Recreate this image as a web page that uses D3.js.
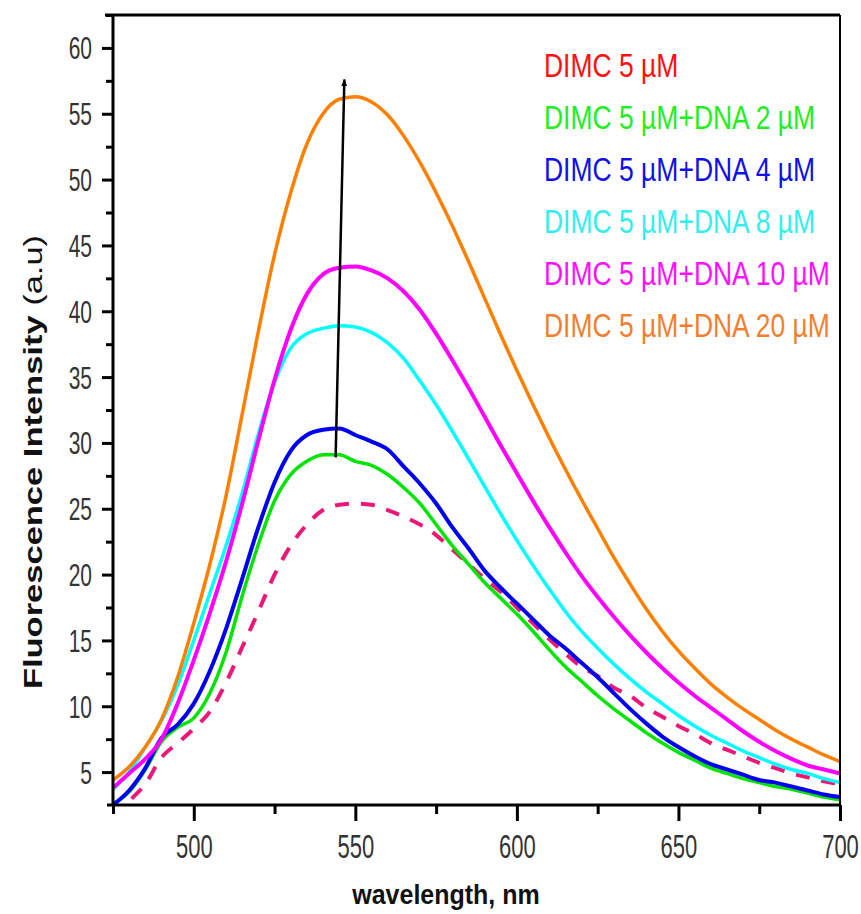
<!DOCTYPE html>
<html>
<head>
<meta charset="utf-8">
<script src="https://cdn.jsdelivr.net/npm/d3@7/dist/d3.min.js"></script>
<style>
  body { margin: 0; background: #fff; }
  text { font-family: "Liberation Sans", Arial, sans-serif; }
</style>
</head>
<body>
<svg id="chart" width="861" height="914"></svg>
<script>
// wavelength grid (nm)
const wavelength = [475,480,485,490,495,500,505,510,515,520,525,530,535,540,545,550,555,560,565,570,575,580,585,590,595,600,605,610,615,620,625,630,635,640,645,650,655,660,665,670,675,680,685,690,695,700];

// fluorescence intensity (a.u)
const dimc5 = [1.6,2.8,4.1,6.1,7.2,8.3,9.6,11.8,14.5,17.2,20.0,22.2,23.8,24.9,25.3,25.4,25.3,24.9,24.4,23.8,23.0,21.9,20.8,19.7,18.7,17.5,16.3,15.1,14.0,13.0,12.3,11.4,10.8,9.9,9.2,8.5,7.9,7.2,6.7,6.2,5.7,5.3,4.9,4.6,4.3,4.1];
const dna2 = [2.6,3.5,5.2,7.3,8.4,9.1,11.0,14.1,18.4,22.3,25.6,27.6,28.6,29.1,29.1,28.6,28.3,27.6,26.6,25.4,23.8,22.2,20.8,19.4,18.2,17.0,15.7,14.3,13.0,11.9,10.8,9.8,8.9,8.0,7.2,6.5,5.9,5.3,4.9,4.5,4.2,3.9,3.7,3.4,3.1,2.9];
const dna4 = [2.5,3.6,5.3,7.6,8.6,10.2,12.7,15.9,19.7,23.6,27.0,29.4,30.6,31.0,31.1,30.6,30.1,29.5,28.2,26.9,25.4,23.6,22.0,20.3,19.0,17.8,16.6,15.4,14.4,13.3,12.2,11.0,9.8,8.7,7.7,6.9,6.2,5.6,5.2,4.8,4.4,4.2,3.9,3.6,3.3,3.1];
const dna8 = [3.7,5.0,6.9,8.9,11.6,15.0,18.6,22.2,26.2,30.7,34.6,37.2,38.3,38.7,38.9,38.8,38.4,37.6,36.4,34.7,32.9,30.9,28.8,26.7,24.6,22.6,20.7,18.9,17.2,15.7,14.4,13.2,12.1,11.1,10.2,9.3,8.5,7.8,7.2,6.6,6.1,5.6,5.2,4.9,4.5,4.2];
const dna10 = [3.8,4.9,6.0,7.5,10.2,13.5,17.1,21.0,25.4,30.2,34.8,38.6,41.3,42.8,43.3,43.4,43.1,42.5,41.5,40.1,38.3,36.3,34.2,32.0,29.8,27.7,25.6,23.6,21.7,19.9,18.3,16.8,15.4,14.1,12.9,11.8,10.8,9.9,9.0,8.1,7.3,6.6,6.0,5.5,5.2,4.9];
const dna20 = [4.4,5.4,6.9,9.0,12.2,16.3,20.8,26.0,32.2,38.5,44.3,49.0,52.7,55.0,56.1,56.3,55.9,54.9,53.3,51.3,49.0,46.5,43.8,41.0,38.2,35.5,32.9,30.4,28.0,25.7,23.5,21.3,19.3,17.4,15.7,14.2,12.9,11.7,10.7,9.8,9.0,8.2,7.5,6.9,6.3,5.8];

const legendLabels = ["DIMC 5 µM", "DIMC 5 µM+DNA 2 µM", "DIMC 5 µM+DNA 4 µM", "DIMC 5 µM+DNA 8 µM", "DIMC 5 µM+DNA 10 µM", "DIMC 5 µM+DNA 20 µM"];
const xTicks = [500, 550, 600, 650, 700];
const xMinorTicks = [475, 525, 575, 625, 675];
const yTicks = [5, 10, 15, 20, 25, 30, 35, 40, 45, 50, 55, 60];
const yMinorTicks = [7.5, 12.5, 17.5, 22.5, 27.5, 32.5, 37.5, 42.5, 47.5, 52.5, 57.5, 62.5];
// peak shift marker: from the 2 µM peak up to the 20 µM peak
const peakArrow = [[543.9, 28.9], [546.6, 57.6]];

const svg = d3.select("#chart");
const plotLeft = 113, plotRight = 840, plotTop = 15, plotBottom = 805;

const x = d3.scaleLinear().domain([475, 700]).range([plotLeft, plotRight]);
const y = d3.scaleLinear().domain([2.5, 62.5]).range([plotBottom, plotTop]);

// series style, drawn back to front
const series = [
  { values: dimc5, color: "#ec1878", width: 4, dash: "14,12" },
  { values: dna2,  color: "#00e400", width: 3.5 },
  { values: dna4,  color: "#0000f0", width: 4 },
  { values: dna8,  color: "#00ffff", width: 3.5 },
  { values: dna10, color: "#ff00ff", width: 4 },
  { values: dna20, color: "#ff8000", width: 3.5 }
];
const legendColors = ["#ff1010", "#22ee22", "#1010e8", "#33eeee", "#ff10ff", "#f08030"];

const defs = svg.append("defs");
defs.append("clipPath").attr("id", "plot")
  .append("rect").attr("x", plotLeft).attr("y", plotTop)
  .attr("width", plotRight - plotLeft).attr("height", plotBottom - plotTop);
defs.append("marker").attr("id", "arrow")
  .attr("viewBox", "0 0 10 10").attr("refX", 9).attr("refY", 5)
  .attr("markerWidth", 3).attr("markerHeight", 3).attr("orient", "auto")
  .append("path").attr("d", "M0,1 L10,5 L0,9 z").attr("fill", "#000");

// curves
const line = d3.line()
  .x((d, i) => x(wavelength[i]))
  .y(d => y(d))
  .curve(d3.curveMonotoneX);

const curves = svg.append("g").attr("clip-path", "url(#plot)");
series.forEach(s => {
  curves.append("path")
    .attr("d", line(s.values))
    .attr("fill", "none")
    .attr("stroke", s.color)
    .attr("stroke-width", s.width)
    .attr("stroke-dasharray", s.dash || null)
    .attr("stroke-linejoin", "round");
});

// peak arrow
svg.append("line")
  .attr("x1", x(peakArrow[0][0])).attr("y1", y(peakArrow[0][1]))
  .attr("x2", x(peakArrow[1][0])).attr("y2", y(peakArrow[1][1]))
  .attr("stroke", "#000").attr("stroke-width", 2.5)
  .attr("marker-end", "url(#arrow)");

// x axis
const gx = svg.append("g").attr("transform", `translate(0,${plotBottom})`);
gx.call(d3.axisBottom(x).tickValues(xTicks).tickSize(16));
gx.append("g").call(d3.axisBottom(x).tickValues(xMinorTicks).tickSize(9).tickFormat(""));
gx.selectAll(".domain").remove();
gx.attr("font-size", null).attr("font-family", null);
gx.selectAll("line").attr("stroke", "#000").attr("stroke-width", 3);
gx.selectAll("text")
  .attr("y", 0).attr("dy", null)
  .attr("transform", "translate(0,53) scale(1,1.55)")
  .attr("font-size", 22)
  .attr("fill", "#333");

// y axis
const gy = svg.append("g").attr("transform", `translate(${plotLeft},0)`);
gy.call(d3.axisLeft(y).tickValues(yTicks).tickSize(11));
gy.append("g").call(d3.axisLeft(y).tickValues(yMinorTicks).tickSize(7).tickFormat(""));
gy.selectAll(".domain").remove();
gy.attr("font-size", null).attr("font-family", null);
gy.selectAll("line").attr("stroke", "#000").attr("stroke-width", 3);
gy.selectAll("text")
  .attr("x", 0).attr("dy", null)
  .attr("transform", "translate(-21,11) scale(1,1.45)")
  .attr("font-size", 21)
  .attr("fill", "#333");

// frame
const frame = svg.append("g").attr("stroke", "#000");
frame.append("line").attr("x1", plotLeft - 8).attr("x2", plotRight).attr("y1", plotTop).attr("y2", plotTop).attr("stroke-width", 3);
frame.append("line").attr("x1", plotRight).attr("x2", plotRight).attr("y1", plotTop).attr("y2", plotBottom).attr("stroke-width", 2);
frame.append("line").attr("x1", plotLeft).attr("x2", plotLeft).attr("y1", plotTop).attr("y2", plotBottom).attr("stroke-width", 3);
frame.append("line").attr("x1", plotLeft - 6).attr("x2", plotRight + 1).attr("y1", plotBottom).attr("y2", plotBottom).attr("stroke-width", 3);

// axis titles
svg.append("text")
  .attr("transform", "translate(446,904) scale(1,1.1)")
  .attr("text-anchor", "middle")
  .attr("font-size", 25)
  .attr("font-weight", "bold")
  .attr("fill", "#111")
  .text("wavelength, nm");

const yTitle = svg.append("text")
  .attr("transform", "translate(42,462) rotate(-90) scale(1.38,1)")
  .attr("text-anchor", "middle")
  .attr("font-size", 25)
  .attr("font-weight", "bold")
  .attr("fill", "#111");
yTitle.append("tspan").text("Fluorescence Intensity ");
yTitle.append("tspan").attr("font-weight", "normal").text("(a.u)");

// legend
const legend = svg.append("g");
legendLabels.forEach((label, i) => {
  legend.append("text")
    .attr("transform", `translate(544,${77 + 52 * i}) scale(1,1.27)`)
    .attr("font-size", 26.5)
    .attr("fill", legendColors[i])
    .text(label);
});
</script>
</body>
</html>
